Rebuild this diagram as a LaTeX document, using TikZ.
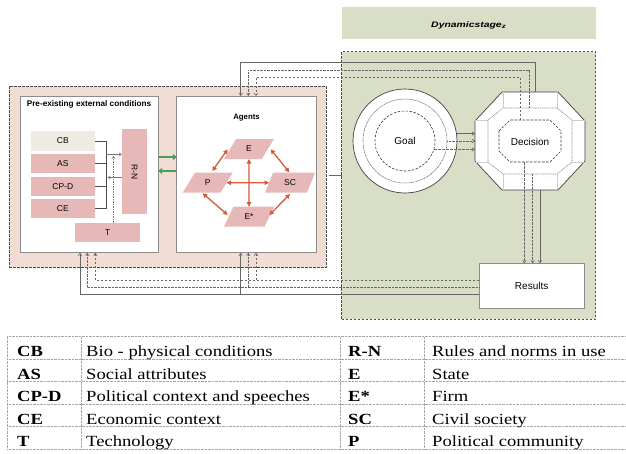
\documentclass[tikz,border=0pt]{standalone}
\usepackage{fontspec}
\setmainfont{Liberation Serif}
\setsansfont{Liberation Sans}
\newfontfamily\tabfont[FakeStretch=1.2]{Liberation Serif}
\newfontfamily\dynfont[FakeStretch=1.3]{Liberation Sans}
\usetikzlibrary{arrows.meta,shapes.geometric,calc}
\definecolor{pinkbg}{HTML}{F2DDD5}
\definecolor{greenbg}{HTML}{D9DEC6}
\definecolor{boxpink}{HTML}{E6B9B8}
\definecolor{cbgrey}{HTML}{EEECE2}
\definecolor{redarr}{HTML}{D35A3A}
\definecolor{greenarr}{HTML}{4E9A5E}
\newcommand\myfs[1]{\fontsize{#1}{#1}\selectfont}
\newcommand\myoct[7]{%
 \draw[#1] ({#2-#4},{#3-#5+#7}) -- ({#2-#4+#6},{#3-#5}) -- ({#2+#4-#6},{#3-#5}) -- ({#2+#4},{#3-#5+#7}) -- ({#2+#4},{#3+#5-#7}) -- ({#2+#4-#6},{#3+#5}) -- ({#2-#4+#6},{#3+#5}) -- ({#2-#4},{#3+#5-#7}) -- cycle;}
\tikzset{
 region/.style={draw=black!70, dash pattern=on 2.5pt off 1.5pt, line width=0.6pt, inner sep=0, outer sep=0},
 wbox/.style={draw=black!45, fill=white, line width=0.8pt, inner sep=0, outer sep=0},
 pbox/.style={fill=boxpink, inner sep=0, outer sep=0, font=\sffamily\myfs{8.5}},
 para/.style={trapezium, trapezium left angle=65, trapezium right angle=115, trapezium stretches=true,
   fill=boxpink, minimum width=50pt, minimum height=20pt, inner sep=0, outer sep=0, font=\sffamily\myfs{8.5}},
 redarrow/.style={draw=redarr, line width=1.3pt, {Triangle[length=4.5pt,width=4.5pt]}-{Triangle[length=4.5pt,width=4.5pt]}},
 greenarrow/.style={draw=greenarr, line width=1.1pt, -{Straight Barb[length=3pt,width=5pt]}},
 conn/.style={draw=black!60, line width=0.6pt, -{Straight Barb[length=2.5pt,width=3.5pt]}},
 dotc/.style={conn, dash pattern=on 0.8pt off 0.6pt},
 dashc/.style={conn, dash pattern=on 2.5pt off 1.5pt},
 bracket/.style={draw=black!70, line width=0.7pt},
 thinarr/.style={draw=black!55, line width=0.5pt, -{Straight Barb[length=2.5pt,width=3.5pt]}},
 bevel/.style={draw=black!20, line width=0.5pt},
 lab/.style={font=\sffamily\myfs{10}, inner sep=0},
 tabl/.style={anchor=base west, inner sep=0, font=\tabfont\bfseries\myfs{15.5}},
 tabd/.style={anchor=base west, inner sep=0, font=\tabfont\myfs{15.5}},
 tline/.style={draw=black!35, line width=0.5pt, dash pattern=on 0.8pt off 0.6pt},
}
\begin{document}
\begin{tikzpicture}[x=1pt,y=-1pt]
\useasboundingbox (0,0) rectangle (626,453);
\fill[white] (0,0) rectangle (626,453);

% top banner
\node[fill=greenbg, minimum width=254pt, minimum height=32.6pt, inner sep=0] (dyn) at (468.7,23) {};
\node[font=\dynfont\bfseries\itshape\myfs{8}] (dyntext) at (468.7,25.5) {Dynamicstage\textsubscript{z}};

% regions
\node[region, fill=greenbg, minimum width=254pt, minimum height=267.3pt] (green) at (468.7,185.35) {};
\node[region, fill=pinkbg, minimum width=317pt, minimum height=181.7pt] (pink) at (167.5,176.85) {};

% white boxes
\node[wbox, minimum width=138.3pt, minimum height=156.7pt] (pre) at (89.15,174.35) {};
\node[wbox, minimum width=139.3pt, minimum height=156.7pt] (agents) at (246.35,174.35) {};
\node[font=\sffamily\bfseries\myfs{8.2}] (prelabel) at (89,104.5) {Pre-existing external conditions};
\node[font=\sffamily\bfseries\myfs{7.8}] (aglabel) at (246.5,117.5) {Agents};

% pre-existing boxes
\node[pbox, fill=cbgrey, minimum width=64.3pt, minimum height=19.7pt] (CB) at (62.85,140.85) {CB};
\node[pbox, minimum width=64.3pt, minimum height=19.7pt] (AS) at (62.85,163.5) {AS};
\node[pbox, minimum width=64.3pt, minimum height=19.7pt] (CPD) at (62.85,186.35) {CP-D};
\node[pbox, minimum width=64.3pt, minimum height=19.7pt] (CE) at (62.85,208.5) {CE};
\node[pbox, minimum width=25.6pt, minimum height=85.3pt] (RN) at (134.5,171.65) {};
\node[font=\sffamily\myfs{8.5}, rotate=-90] (RNtext) at (RN) {R-N};
\node[pbox, minimum width=64.7pt, minimum height=19pt] (T) at (107.65,232.2) {T};

% bracket and inner arrows
\coordinate (bx) at (106,0);
\draw[bracket] (CB.east) -- (CB.east -| bx);
\draw[bracket] (AS.east) -- (AS.east -| bx);
\draw[bracket] (CPD.east) -- (CPD.east -| bx);
\draw[bracket] (CE.east) -- (CE.east -| bx);
\draw[bracket] (CB.east -| bx) -- (CE.east -| bx);
\coordinate (ar1) at (106,154.5);
\draw[thinarr] (ar1) -- (ar1 -| RN.west);
\coordinate (al2) at (107.5,177.5);
\draw[thinarr] (al2 -| RN.west) -- (al2);
\coordinate (tv) at (113.5,156);
\draw[thinarr, dash pattern=on 1.5pt off 1pt] (tv |- T.north) -- (tv);

% green arrows
\coordinate (g1) at (0,157);
\coordinate (g2) at (0,171);
\draw[greenarrow] (g1 -| pre.east) -- (g1 -| agents.west);
\draw[greenarrow] (g2 -| agents.west) -- (g2 -| pre.east);

% agents
\node[para] (E) at (249,149) {E};
\node[para] (P) at (207.7,182.7) {P};
\node[para] (SC) at (290,182.7) {SC};
\node[para] (Es) at (249,216.7) {E*};
\draw[redarrow] ($(E)+(-21.3,0.3)$) -- ($(P)+(4.6,-11.7)$);
\draw[redarrow] ($(E)+(21.7,0.3)$) -- ($(SC)+(-0.7,-10.4)$);
\draw[redarrow] ($(P)+(-5,10.6)$) -- ($(Es)+(-21.3,-1.7)$);
\draw[redarrow] ($(SC)+(0,11.3)$) -- ($(Es)+(20.3,-1.7)$);
\draw[redarrow] (E.south) -- (Es.north);
\draw[redarrow] (P.east) -- (SC.west);

% goal
\node[circle, draw=black!75, fill=white, line width=0.7pt, minimum size=104pt, inner sep=0] (goal) at (405,141) {};
\node[circle, draw=black!60, line width=0.6pt, dash pattern=on 1pt off 0.7pt, minimum size=84pt, inner sep=0] (goalm) at (goal) {};
\node[circle, draw=black!80, line width=0.6pt, dash pattern=on 2.5pt off 1.5pt, minimum size=60pt, inner sep=0, font=\sffamily\myfs{10}] (goali) at (goal) {Goal};

% decision octagon
\myoct{draw=black!75, fill=white, line width=0.7pt}{530}{141}{55}{49}{27}{29}
\draw[bevel] (503,92) -- (503,108) (557,92) -- (557,108) (503,174) -- (503,190) (557,174) -- (557,190)
  (475,120) -- (488,120) (475,162) -- (488,162) (572,120) -- (585,120) (572,162) -- (585,162);
\myoct{draw=black!45, line width=0.6pt, dash pattern=on 1pt off 0.7pt}{530}{141}{42}{33}{15}{12}
\myoct{draw=black!80, line width=0.6pt, dash pattern=on 2.5pt off 1.5pt}{530}{141}{31}{21}{11}{11}
\node[lab] (dec) at (530,141.5) {Decision};
\coordinate (octL) at (475,141);

% results
\node[wbox, minimum width=104.7pt, minimum height=44.7pt, font=\sffamily\myfs{10}] (res) at (531.65,285.65) {Results};

% goal -> decision
\draw[conn] (goal.8.5) -- (goal.8.5 -| octL);
\draw[dotc] (goalm.east) -- (goalm.east -| octL);
\draw[dashc] (goali.-16) -- (goali.-16 -| octL);

% decision -> agents (top)
\coordinate (ts) at (535,92);
\coordinate (td) at (529,108);
\coordinate (tdd) at (520.7,120);
\draw[conn] (ts) -- ++(0,-29.5) -| ($(agents.north)+(-5.65,0)$);
\draw[dotc] (td) -- ++(0,-38) -| ($(agents.north)+(1.95,0)$);
\draw[dashc] (tdd) -- ++(0,-42.7) -| ($(agents.north)+(9.65,0)$);

% decision -> results
\coordinate (bs) at (540,190);
\coordinate (bd) at (532.7,174);
\coordinate (bdd) at (524.3,162);
\draw[conn] (bs) -- (bs |- res.north);
\draw[dotc] (bd) -- (bd |- res.north);
\draw[dashc] (bdd) -- (bdd |- res.north);

% results -> pre-existing and agents (bottom)
\coordinate (rdd) at ($(res.west)+(0,-5.65)$);
\coordinate (rd) at ($(res.west)+(0,1.35)$);
\coordinate (rs) at ($(res.west)+(0,8.35)$);
\draw[dashc] (rdd) -| ($(pre.south)+(6.15,0)$);
\draw[dotc] (rd) -| ($(pre.south)+(-1.85,0)$);
\draw[conn] (rs) -| ($(pre.south)+(-9.15,0)$);
\draw[dashc] ($(rdd -| agents.south)+(9.65,0)$) -- ($(agents.south)+(9.65,0)$);
\draw[dotc] ($(rd -| agents.south)+(1.95,0)$) -- ($(agents.south)+(1.95,0)$);
\draw[conn] ($(rs -| agents.south)+(-5.65,0)$) -- ($(agents.south)+(-5.65,0)$);

% short link
\coordinate (sl) at (329,175);
\draw[draw=black!60, line width=0.6pt] (sl) -- (sl -| green.west);

% legend table
\foreach \yy in {336.7,359.16,381.62,404.08,426.54,449}
  \draw[tline] (7.3,\yy) -- (626,\yy);
\foreach \xx in {7.3,81.7,340,424}
  \draw[tline] (\xx,336.7) -- (\xx,449);
\node[tabl] (k1) at (17,356.9) {CB};
\node[tabd] (d1) at (86,356.9) {Bio - physical conditions};
\node[tabl] (k2) at (17,379.4) {AS};
\node[tabd] (d2) at (86,379.4) {Social attributes};
\node[tabl] (k3) at (17,401.8) {CP-D};
\node[tabd] (d3) at (86,401.8) {Political context and speeches};
\node[tabl] (k4) at (17,424.3) {CE};
\node[tabd] (d4) at (86,424.3) {Economic context};
\node[tabl] (k5) at (17,446.7) {T};
\node[tabd] (d5) at (86,446.7) {Technology};
\node[tabl] (k6) at (348,356.9) {R-N};
\node[tabd] (d6) at (432,356.9) {Rules and norms in use};
\node[tabl] (k7) at (348,379.4) {E};
\node[tabd] (d7) at (432,379.4) {State};
\node[tabl] (k8) at (348,401.8) {E*};
\node[tabd] (d8) at (432,401.8) {Firm};
\node[tabl] (k9) at (348,424.3) {SC};
\node[tabd] (d9) at (432,424.3) {Civil society};
\node[tabl] (k10) at (348,446.7) {P};
\node[tabd] (d10) at (432,446.7) {Political community};
\end{tikzpicture}
\end{document}
